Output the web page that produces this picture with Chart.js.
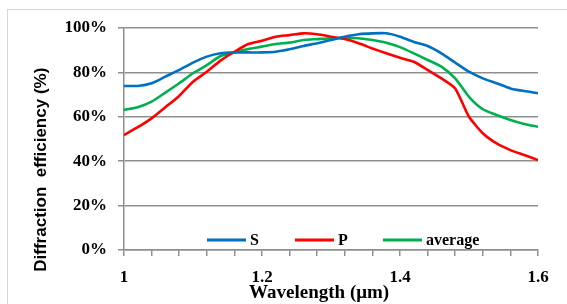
<!DOCTYPE html>
<html>
<head>
<meta charset="utf-8">
<script src="https://cdn.jsdelivr.net/npm/chart.js@4"></script>
<style>
  html, body { margin:0; padding:0; background:#fff; }
  #wrap { position:relative; width:567px; height:304px; overflow:hidden; }
  #frame { position:absolute; left:7px; top:9px; width:600px; height:320px; border:1px solid #d6d6d6; }
  #c { position:absolute; left:0; top:0; }
</style>
</head>
<body>
<div id="wrap">
  <div id="frame"></div>
  <canvas id="c" width="567" height="304"></canvas>
</div>
<script>
// wavelength (um), 0.02 step
const wavelengths = [1.00,1.02,1.04,1.06,1.08,1.10,1.12,1.14,1.16,1.18,1.20,1.22,1.24,1.26,1.28,1.30,
                     1.32,1.34,1.36,1.38,1.40,1.42,1.44,1.46,1.48,1.50,1.52,1.54,1.56,1.58,1.60];
const sPol = [73.9,73.9,75.1,78.1,81.1,84.4,87.1,88.6,89.0,89.0,89.0,89.3,90.4,91.9,93.1,94.6,
              96.1,97.2,97.6,97.6,96.1,93.7,91.9,88.6,84.4,80.3,77.3,75.1,72.8,71.6,70.6];
const pPol = [51.8,55.3,59.3,64.3,69.4,75.8,80.3,85.3,89.3,92.8,94.3,96.1,96.8,97.6,97.2,96.1,
              95.0,93.1,90.8,88.6,86.6,84.8,81.1,77.3,72.8,60.0,52.6,48.0,45.0,42.8,40.5];
const avgPol = [63.1,64.3,66.8,70.9,75.1,79.6,83.3,87.4,89.0,90.5,91.6,92.8,93.4,94.6,95.0,95.4,
                95.6,95.4,94.6,93.4,91.4,88.6,85.6,82.6,77.3,69.0,63.4,60.8,58.6,56.8,55.5];
const seriesNames = ['S', 'P', 'average'];
const xLabelTicks = [1, 1.2, 1.4, 1.6];

const serif = "'Liberation Serif', 'Times New Roman', serif";
const gridCol = '#8f8f8f';

const mkDs = (label, vals, color) => ({
  label, data: wavelengths.map((x, i) => ({ x, y: vals[i] })),
  borderColor: color, backgroundColor: color,
  borderWidth: 2.6, pointRadius: 0, tension: 0.2, fill: false,
});

// legend drawn inside the plot area, near the bottom
const innerLegend = {
  id: 'innerLegend',
  afterDatasetsDraw(chart) {
    const ctx = chart.ctx;
    ctx.save();
    ctx.font = `bold 16px ${serif}`;
    ctx.textBaseline = 'middle';
    chart.data.datasets.forEach((ds, i) => {
      const x0 = 207 + i * 88, y = 240;
      ctx.strokeStyle = ds.borderColor;
      ctx.lineWidth = 3;
      ctx.beginPath(); ctx.moveTo(x0, y); ctx.lineTo(x0 + 39, y); ctx.stroke();
      ctx.fillStyle = '#000';
      ctx.fillText(ds.label, x0 + 43, y + 1);
    });
    ctx.restore();
  }
};

new Chart(document.getElementById('c'), {
  type: 'line',
  data: { datasets: [
    mkDs(seriesNames[0], sPol,   '#0070c0'),
    mkDs(seriesNames[1], pPol,   '#ff0000'),
    mkDs(seriesNames[2], avgPol, '#00b050'),
  ]},
  options: {
    responsive: false, animation: false,
    layout: { padding: { left:0, right:29, top:28, bottom:0 } },
    plugins: { legend: { display:false }, tooltip: { enabled:false } },
    scales: {
      x: {
        type: 'linear', min: 1, max: 1.6,
        afterBuildTicks: s => {
          const t = [];
          for (let i = 0; i <= 15; i++) t.push({ value: +(1 + i * 0.04).toFixed(2) });
          s.ticks = t;
        },
        afterFit: s => { s.height = 54; },
        ticks: {
          autoSkip: false, maxRotation: 0, padding: 11, color: '#000',
          font: { family: serif, size: 17, weight: 'bold' },
          callback: v => xLabelTicks.some(m => Math.abs(m - v) < 1e-6) ? String(+v.toFixed(1)) : '',
        },
        grid: { drawOnChartArea: false, drawTicks: true, tickLength: 6, color: gridCol, lineWidth: 1.5 },
        border: { display: true, color: gridCol, width: 1.5 },
        title: {
          display: true, text: 'Wavelength (μm)     ', color: '#000',
          font: { family: serif, size: 19, weight: 'bold' }, padding: { top: 0, bottom: 0 },
        },
      },
      y: {
        min: 0, max: 100,
        afterFit: s => { s.width = 124; },
        ticks: {
          stepSize: 20, padding: 11, color: '#000',
          font: { family: serif, size: 17, weight: 'bold' },
          callback: v => v + '%',
        },
        grid: { color: gridCol, lineWidth: 1.5, tickLength: 6 },
        border: { display: true, color: gridCol, width: 1.5 },
        title: {
          display: true, text: 'Diffraction  efficiency (%)             ', color: '#000',
          font: { family: "'Liberation Sans', Arial, sans-serif", size: 17, weight: 'bold' },
          padding: { top: 31, bottom: 0 },
        },
      },
    },
  },
  plugins: [innerLegend],
});
</script>
</body>
</html>
